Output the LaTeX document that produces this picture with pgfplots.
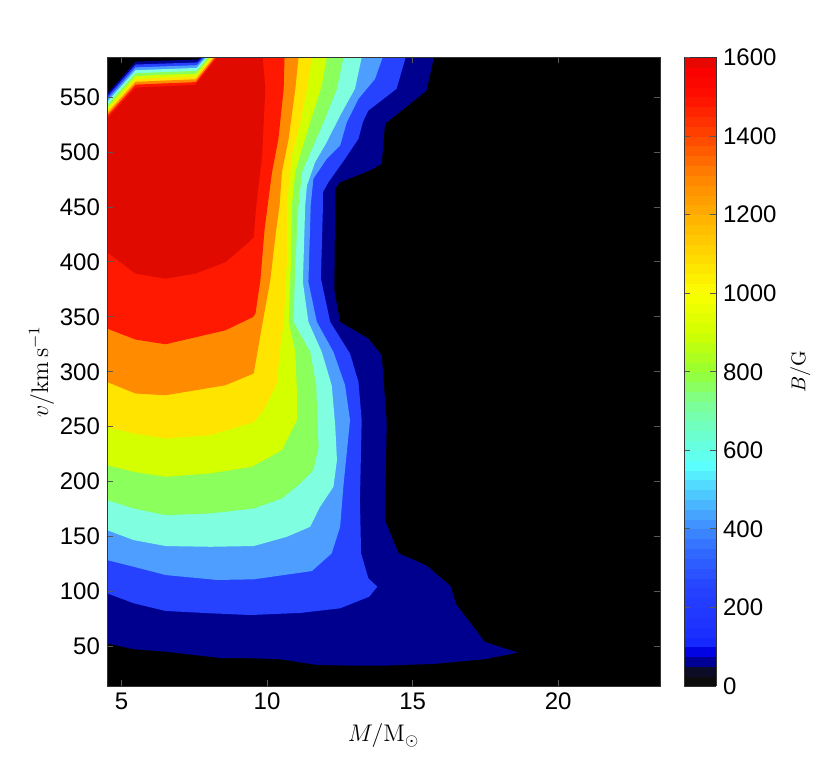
\documentclass[border=0pt]{standalone}
\usepackage[no-math]{fontspec}
\setmainfont{Liberation Sans}
\usepackage{pgfplots}
\pgfplotsset{compat=1.18}

% contour band colours, outermost to innermost
\definecolor{bnavy}{RGB}{0,0,143}
\definecolor{bblue}{RGB}{38,66,255}
\definecolor{blblue}{RGB}{77,158,255}
\definecolor{baqua}{RGB}{127,255,224}
\definecolor{bgreen}{RGB}{139,255,91}
\definecolor{byg}{RGB}{212,255,0}
\definecolor{byellow}{RGB}{255,228,0}
\definecolor{borange}{RGB}{255,140,0}
\definecolor{bred}{RGB}{255,25,0}
\definecolor{bdred}{RGB}{224,10,0}

\pgfplotsset{
  mplabels/.style={
    /pgf/number format/assume math mode=true,
    /pgf/number format/1000 sep={},
    tick label style={font=\fontsize{12}{14}\selectfont},
    label style={font=\fontsize{12}{14}\selectfont},
  },
}

\begin{document}
\begin{tikzpicture}
\begin{axis}[
  at={(0,0)}, anchor=south west,
  scale only axis, width=276.5pt, height=314.25pt,
  xmin=4.5, xmax=23.5, ymin=14, ymax=586,
  xtick={5,10,15,20}, ytick={50,100,...,550},
  tick align=inside, major tick length=3pt,
  every tick/.style={black!65, line width=0.4pt},
  axis line style={black!80, line width=0.5pt},
  axis background/.style={fill=black},
  axis on top,
  mplabels,
  xlabel={$M/\mathrm{M}_\odot$},
  ylabel={$v/\mathrm{km\,s^{-1}}$},
  ylabel shift=-4pt,
  colormap={bcmap}{
    rgb255(0pt)=(12,12,12); rgb255(25pt)=(12,12,12); rgb255(40pt)=(12,12,45);
    rgb255(60pt)=(0,0,140); rgb255(85pt)=(0,0,225); rgb255(110pt)=(20,40,255);
    rgb255(150pt)=(30,50,255); rgb255(250pt)=(38,66,255); rgb255(350pt)=(50,110,255);
    rgb255(425pt)=(68,155,255); rgb255(500pt)=(80,210,255); rgb255(560pt)=(90,255,255);
    rgb255(650pt)=(110,255,200); rgb255(720pt)=(125,255,150); rgb255(800pt)=(150,255,50);
    rgb255(900pt)=(210,255,0); rgb255(1000pt)=(250,255,0); rgb255(1100pt)=(255,215,0);
    rgb255(1200pt)=(255,175,0); rgb255(1300pt)=(255,130,0); rgb255(1400pt)=(255,70,0);
    rgb255(1500pt)=(255,15,0); rgb255(1570pt)=(250,0,0); rgb255(1600pt)=(220,10,0)
  },
  point meta min=0, point meta max=1600,
  colorbar sampled,
  colorbar style={
    samples=65,
    at={(parent axis.north east)}, anchor=north west, xshift=3.5pt,
    width=16pt,
    ytick={0,200,...,1600},
    ytick pos=both, yticklabel pos=right,
    tick align=inside, major tick length=3pt,
    every tick/.style={black!65, line width=0.4pt},
    axis line style={black!80, line width=0.5pt},
    axis on top,
    mplabels,
    ylabel={$B/\mathrm{G}$}, ylabel near ticks,
  },
]
% band 1 (navy)
\addplot[fill=bnavy, draw=none, mark=none] coordinates {
(4.5,552.9) (5.48,582.3) (7.61,584.1) (7.71,586) (15.73,586) (15.48,555.9) (14.05,525.6)
(13.94,489.3) (13.54,483.2) (12.51,472.5) (12.34,466.5) (12.31,374.1) (12.51,345.3)
(13.48,330.2) (13.94,315) (14.11,254.1) (14.05,165) (14.51,135) (15.48,123.6) (16.30,105)
(16.49,88.6) (17.48,54.1) (18.62,44.4) (17.48,38.4) (15.71,34.1) (13.99,32.5) (12.96,32.5)
(11.71,33.2) (10.45,38.4) (9.42,39.3) (8.45,39.3) (6.51,45.3) (5.42,47.5) (4.5,52.9)
};
% band 2 (blue)
\addplot[fill=bblue, draw=none, mark=none] coordinates {
(4.5,550.4) (5.48,579.6) (7.60,581.5) (7.78,586) (14.76,586) (14.45,557.5) (13.48,537.7)
(13.29,527.1) (13.14,512) (12.68,493.8) (12.11,472.5) (11.92,463.5) (11.92,451.4)
(11.85,384.7) (12.17,345.3) (12.85,316.5) (13.14,290.7) (13.25,255.9) (13.19,183.2)
(13.23,134.7) (13.48,112) (13.79,104.4) (13.51,95.3) (12.51,84.7) (11.14,80.5) (9.42,78.6)
(8.05,80.2) (6.51,82.3) (5.42,89.3) (4.5,98.4)
};
% band 3 (light blue)
\addplot[fill=blblue, draw=none, mark=none] coordinates {
(4.5,547.8) (5.48,577) (7.59,579) (7.84,586) (13.97,586) (13.71,566.5) (13.14,548.4)
(12.74,527.1) (12.51,505.9) (12.05,493.8) (11.59,475.6) (11.50,451.4) (11.42,381.6)
(11.71,345.3) (12.28,318) (12.68,287.7) (12.85,255.9) (12.62,195.3) (12.51,158.9)
(12.22,134.7) (11.54,118.6) (11.14,117.1) (9.54,111.1) (8.28,110.5) (6.51,115) (5.42,122.5)
(4.5,128.6)
};
% band 4 (aquamarine)
\addplot[fill=baqua, draw=none, mark=none] coordinates {
(4.5,545.4) (5.48,574.4) (7.58,576.5) (7.90,586) (13.25,586) (13.02,557.5) (12.51,533.2)
(12.05,508.9) (11.65,490.7) (11.37,469.5) (11.31,451.4) (11.23,381.6) (11.42,345.3)
(11.88,318) (12.22,287.7) (12.34,251.4) (12.40,219.5) (12.28,195.3) (11.82,177.1)
(11.48,158.9) (10.68,149.8) (9.54,141.4) (8.05,140.7) (6.51,141.4) (5.42,146.8) (4.5,155.9)
};
% band 5 (green)
\addplot[fill=bgreen, draw=none, mark=none] coordinates {
(4.5,542.8) (5.48,571.7) (7.58,573.9) (7.96,586) (12.62,586) (12.40,557.5) (11.94,527.1)
(11.54,502.9) (11.20,481.6) (11.08,451.4) (10.97,399.8) (10.91,345.3) (11.48,318)
(11.69,287.7) (11.73,251.4) (11.77,231.6) (11.59,210.5) (11.14,198.4) (10.51,184.7)
(9.54,175.6) (8.05,171.1) (6.51,169.5) (5.42,175.6) (4.5,183.2)
};
% band 6 (yellow-green)
\addplot[fill=byg, draw=none, mark=none] coordinates {
(4.5,540.3) (5.48,569.2) (7.57,571.3) (8.03,586) (12.05,586) (11.88,560.4) (11.48,527.1)
(11.20,502.9) (10.97,481.6) (10.85,451.4) (10.82,399.8) (10.74,345.3) (10.97,318)
(11.02,284.7) (11.02,255.9) (10.51,228.6) (9.48,213.5) (8.05,207.5) (6.51,204.4)
(5.42,208.9) (4.5,215)
};
% band 7 (yellow)
\addplot[fill=byellow, draw=none, mark=none] coordinates {
(4.5,537.7) (5.48,566.5) (7.56,568.7) (8.09,586) (11.54,586) (11.37,557.5) (11.14,527.1)
(10.85,496.8) (10.68,451.4) (10.68,399.8) (10.57,345.3) (10.43,318) (10.34,289.3)
(9.88,265) (9.54,254.1) (8.05,242.3) (6.51,239.3) (5.42,243.8) (4.5,249.8)
};
% band 8 (orange)
\addplot[fill=borange, draw=none, mark=none] coordinates {
(4.5,535.3) (5.48,563.9) (7.55,566.2) (8.16,586) (11.08,586) (10.97,557.5) (10.74,512)
(10.51,481.6) (10.43,451.4) (10.31,428.6) (10.11,383.2) (9.88,349.8) (9.54,298.4)
(8.57,287.7) (6.51,278.6) (5.48,280.2) (4.5,290.7)
};
% band 9 (red)
\addplot[fill=bred, draw=none, mark=none] coordinates {
(4.5,532.7) (5.48,561.3) (7.55,563.6) (8.22,586) (10.60,586) (10.57,557.5) (10.39,512)
(10.17,481.6) (10.02,451.4) (9.91,428.6) (9.77,383.2) (9.60,352.9) (9.52,349.8)
(8.57,337.7) (6.51,325) (5.48,329.3) (4.5,339.3)
};
% band 10 (dark red)
\addplot[fill=bdred, draw=none, mark=none] coordinates {
(4.5,530.2) (5.48,558.6) (7.54,561.1) (8.28,586) (9.85,586) (9.94,557.5) (9.83,496.8)
(9.63,451.4) (9.54,422.5) (9.31,416.5) (8.57,399.8) (7.54,389.3) (6.51,384.7)
(5.48,389.3) (4.5,408.9)
};
\end{axis}
\pgfresetboundingbox
\path[use as bounding box] (-53.5pt,-43pt) rectangle (357.5pt,343pt);
\end{tikzpicture}
\end{document}
